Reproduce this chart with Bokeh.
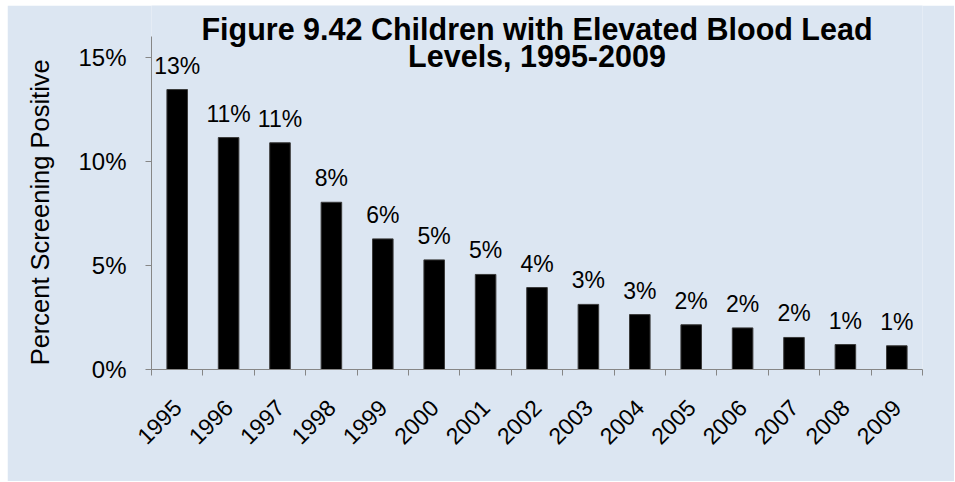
import math
from bokeh.plotting import figure
from bokeh.models import (ColumnDataSource, LabelSet, Label, LinearAxis, CategoricalAxis,
                          FixedTicker, FactorRange, Range1d)
from bokeh.core.properties import value
from bokeh.embed import file_html
from bokeh.resources import INLINE

# ---- data ----
years = [str(y) for y in range(1995, 2010)]
pct_positive = [13.46, 11.15, 10.90, 8.04, 6.28, 5.27, 4.57, 3.94, 3.13, 2.64, 2.15, 2.00, 1.54, 1.20, 1.14]
bar_labels = [f"{round(v)}%" for v in pct_positive]
y_ticks = [0, 5, 10, 15]
y_tick_labels = ["0%", "5%", "10%", "15%"]
y_axis_max = 16
title_line1 = "Figure 9.42 Children with Elevated Blood Lead"
title_line2 = "Levels, 1995-2009"
y_title = "Percent Screening Positive"

BG = "#DCE6F2"
GRAY = "#868686"
FONT = "Liberation Sans"

source = ColumnDataSource(dict(years=years, pct=pct_positive, labels=bar_labels))

p = figure(x_range=FactorRange(factors=years), y_range=Range1d(0, 17.5),
           width=947, height=476, output_backend="svg", toolbar_location=None,
           x_axis_location=None,
           min_border_left=144, min_border_right=32, min_border_top=0, min_border_bottom=112,
           background_fill_color=BG, border_fill_color=BG, outline_line_color=None)
p.margin = (5, 0, 0, 7)
p.xgrid.visible = False
p.ygrid.visible = False

p.vbar(x="years", top="pct", width=0.4, source=source,
       fill_color="black", line_color="#3a3a3a", line_width=1)

p.add_layout(LabelSet(x="years", y="pct", text="labels", source=source,
                      y_offset=16, text_align="center", text_baseline="alphabetic",
                      text_font=value(FONT), text_font_size=value("23px"), text_color="black"))

# y axis
ya = p.yaxis[0]
ya.ticker = FixedTicker(ticks=y_ticks)
ya.bounds = (0, y_axis_max)
ya.major_label_overrides = {t: l for t, l in zip(y_ticks, y_tick_labels)}
ya.major_label_text_font = FONT
ya.major_label_text_font_size = "24px"
ya.major_label_text_color = "black"
ya.major_label_standoff = 19
ya.major_tick_out = 6
ya.major_tick_in = 0
ya.minor_tick_line_color = None
ya.axis_line_color = GRAY
ya.major_tick_line_color = GRAY
# non-breaking padding keeps the label centred on the 0-16% axis span
ya.axis_label = y_title + "\u00a0" * 7
ya.axis_label_text_font = FONT
ya.axis_label_text_font_size = "25.5px"
ya.axis_label_text_font_style = "normal"
ya.axis_label_text_color = "black"
ya.axis_label_standoff = 21

# x axis: boundary tick marks
boundaries = list(range(len(years) + 1))
tick_axis = LinearAxis(ticker=FixedTicker(ticks=boundaries),
                       major_label_overrides={b: "" for b in boundaries},
                       major_label_text_font_size="8px", major_label_standoff=0,
                       major_tick_out=6, major_tick_in=0, minor_tick_line_color=None,
                       axis_line_color=GRAY, major_tick_line_color=GRAY)
p.add_layout(tick_axis, "below")

# x axis: category labels
label_axis = CategoricalAxis(axis_line_color=None, major_tick_line_color=None,
                             major_label_orientation=math.pi / 4,
                             major_label_text_font=FONT, major_label_text_font_size="23px",
                             major_label_text_color="black", major_label_standoff=22)
p.add_layout(label_axis, "below")

# title
center = len(years) / 2
for txt, yv in ((title_line1, 16.38), (title_line2, 15.05)):
    p.add_layout(Label(x=center, y=yv, text=txt, text_align="center",
                       text_baseline="alphabetic", text_font=FONT, text_font_size="30.5px",
                       text_font_style="bold", text_color="black"))

open("out.html", "w").write(file_html(p, INLINE))
